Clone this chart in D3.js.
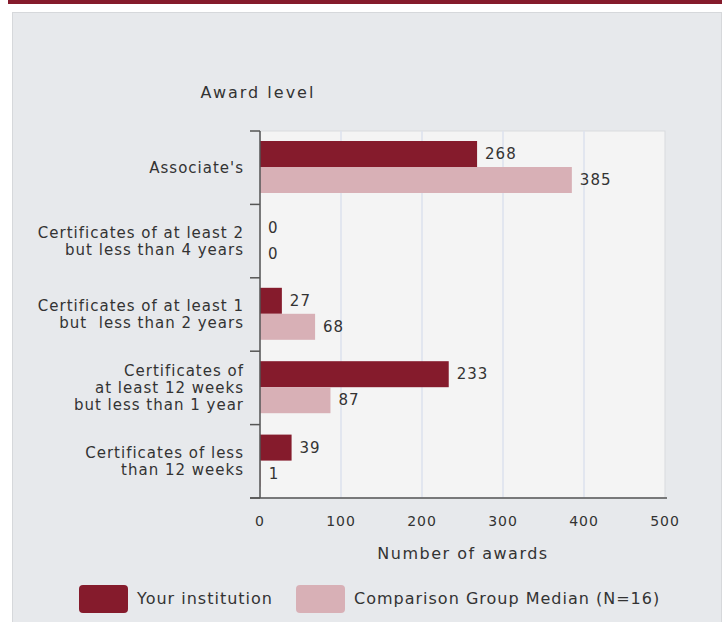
<!DOCTYPE html>
<html>
<head>
  <script src="https://cdn.jsdelivr.net/npm/d3@7"></script>
  <style>
    body { margin: 0; background: #fff; }
    svg text { font-family: "DejaVu Sans", sans-serif; fill: #333; }
  </style>
</head>
<body>
<div id="chart"></div>
<script>
  let categories = [
    ["Associate's"],
    ["Certificates of at least 2", "but less than 4 years"],
    ["Certificates of at least 1", "but  less than 2 years"],
    ["Certificates of", "at least 12 weeks", "but less than 1 year"],
    ["Certificates of less", "than 12 weeks"]
  ];
  let institution = [268, 0, 27, 233, 39];
  let comparison = [385, 0, 68, 87, 1];
  let xTicks = [0, 100, 200, 300, 400, 500];
  let seriesNames = ["Your institution", "Comparison Group Median (N=16)"];
  let colors = ["#851b2c", "#d8b0b6"];

  let w = 728, h = 622;
  let pLeft = 260, pRight = 665, pTop = 131, pBottom = 498;

  let svg = d3.select('#chart').append('svg')
    .attr('width', w)
    .attr('height', h);

  // frame
  svg.append('rect').attr('x', 8).attr('y', 0).attr('width', 714).attr('height', 4).attr('fill', '#851b2c');
  svg.append('rect').attr('x', 12.5).attr('y', 12.5).attr('width', 709).attr('height', 615)
    .attr('fill', '#e7e9ec').attr('stroke', '#d6d8db');

  let x = d3.scaleLinear().domain([0, 500]).range([pLeft, pRight]);
  let y = d3.scaleBand().domain(d3.range(categories.length)).range([pTop, pBottom]);

  svg.append('rect').attr('x', pLeft).attr('y', pTop).attr('width', pRight - pLeft).attr('height', pBottom - pTop)
    .attr('fill', '#f4f4f4').attr('stroke', '#d9dbde');

  svg.selectAll('.grid').data(xTicks.slice(1, -1)).enter().append('line')
    .attr('x1', d => x(d)).attr('x2', d => x(d))
    .attr('y1', pTop).attr('y2', pBottom)
    .attr('stroke', '#dce2ee').attr('stroke-width', 1.5);

  let barH = 26, pad = 10;
  let series = [institution, comparison];
  series.forEach((vals, s) => {
    svg.selectAll('.bar' + s).data(vals).enter().append('rect')
      .attr('x', x(0))
      .attr('y', (d, i) => y(i) + pad + s * barH)
      .attr('width', d => x(d) - x(0))
      .attr('height', barH)
      .attr('fill', colors[s]);
    svg.selectAll('.lab' + s).data(vals).enter().append('text')
      .attr('x', d => x(d) + 8)
      .attr('y', (d, i) => y(i) + pad + s * barH + barH / 2)
      .attr('dy', '0.35em')
      .attr('font-size', 15)
      .attr('letter-spacing', 1)
      .text(d => d);
  });

  // y axis
  let yAxis = svg.append('g');
  yAxis.append('line').attr('x1', pLeft).attr('x2', pLeft).attr('y1', pTop).attr('y2', pBottom)
    .attr('stroke', '#555').attr('stroke-width', 1.5);
  let yt = d3.range(categories.length + 1).map(i => i < categories.length ? y(i) : pBottom);
  yAxis.selectAll('.yt').data(yt).enter().append('line')
    .attr('x1', pLeft - 10).attr('x2', pLeft).attr('y1', d => d).attr('y2', d => d)
    .attr('stroke', '#555').attr('stroke-width', 1.5);

  let lh = 17;
  categories.forEach((lines, i) => {
    let cy = y(i) + y.bandwidth() / 2;
    let t = svg.append('text').attr('text-anchor', 'end').attr('font-size', 15)
      .attr('letter-spacing', 1);
    lines.forEach((ln, j) => {
      t.append('tspan').attr('x', 244)
        .attr('y', cy + (j - (lines.length - 1) / 2) * lh)
        .attr('dy', '0.35em')
        .attr('xml:space', 'preserve')
        .text(ln);
    });
  });

  // x axis
  svg.append('line').attr('x1', pLeft - 10).attr('x2', pRight + 2).attr('y1', pBottom).attr('y2', pBottom)
    .attr('stroke', '#555').attr('stroke-width', 1.5);
  svg.selectAll('.xt').data(xTicks).enter().append('text')
    .attr('x', d => x(d)).attr('y', 521).attr('dy', '0.35em')
    .attr('text-anchor', 'middle').attr('font-size', 14).attr('letter-spacing', 1)
    .text(d => d);

  svg.append('text').attr('x', 463).attr('y', 553).attr('dy', '0.35em')
    .attr('text-anchor', 'middle').attr('font-size', 16).attr('letter-spacing', 1.5)
    .text('Number of awards');
  svg.append('text').attr('x', 258).attr('y', 92).attr('dy', '0.35em')
    .attr('text-anchor', 'middle').attr('font-size', 16).attr('letter-spacing', 2)
    .text('Award level');

  // legend
  let legX = [79, 296];
  seriesNames.forEach((name, s) => {
    svg.append('rect').attr('x', legX[s]).attr('y', 585).attr('width', 49).attr('height', 28)
      .attr('rx', 4).attr('fill', colors[s]);
    svg.append('text').attr('x', legX[s] + 58).attr('y', 598).attr('dy', '0.35em')
      .attr('font-size', 16).attr('letter-spacing', 1).text(name);
  });
</script>
</body>
</html>
